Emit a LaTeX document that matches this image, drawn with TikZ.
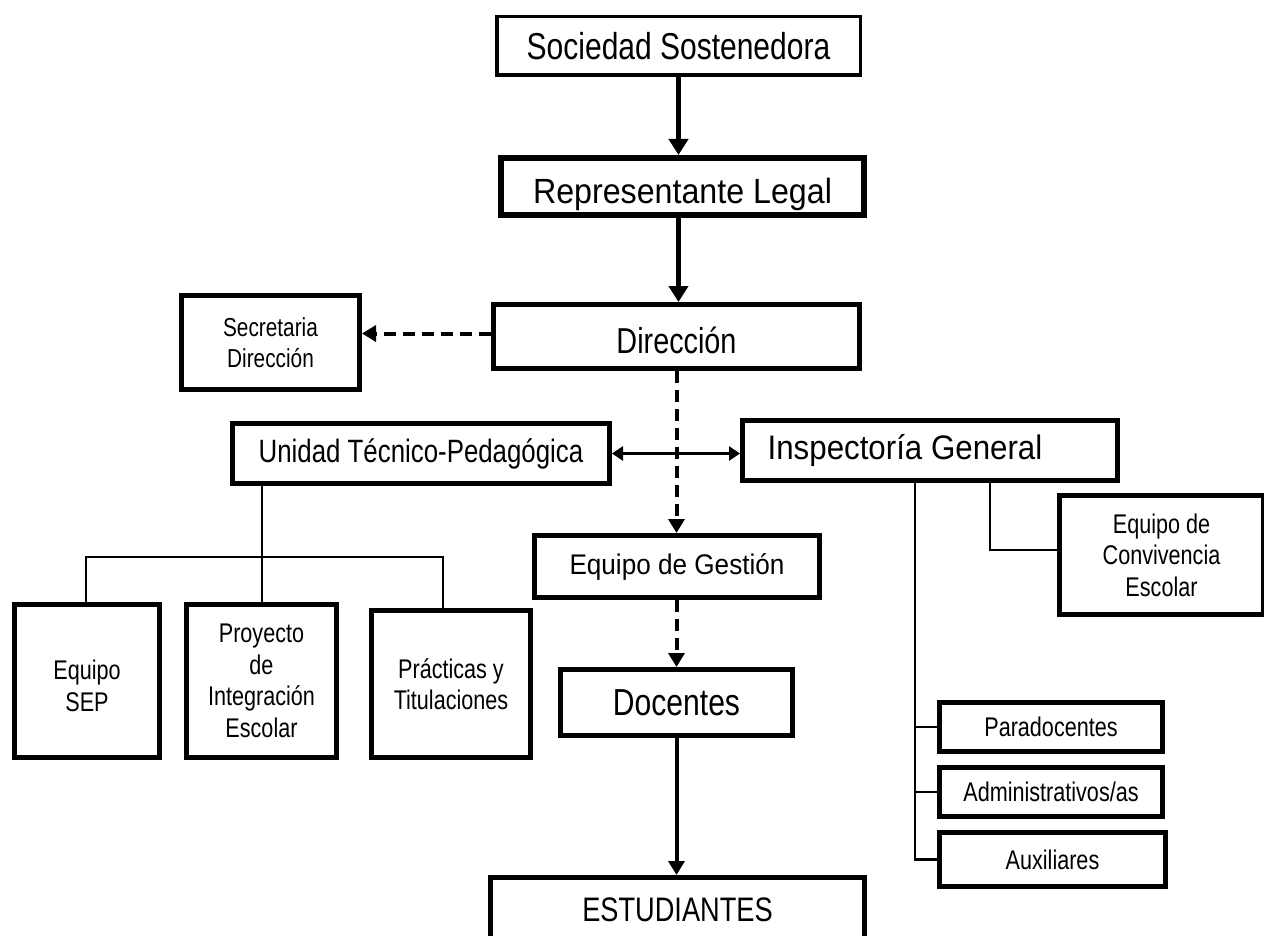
\documentclass[tikz,border=0pt]{standalone}
\usepackage{fontspec}
\setmainfont{Liberation Sans}[FakeStretch=0.8]
\newfontfamily\widefont{Liberation Sans}[FakeStretch=0.92]
\usetikzlibrary{arrows.meta}
\newcommand{\fsz}[2]{\fontsize{#1}{#2}\selectfont}
\newcommand{\shiftv}[2]{\raisebox{#1}[\height][\depth]{#2}}
\begin{document}
\begin{tikzpicture}[x=1pt,y=-1pt,
  obox/.style={draw, line width=5pt, inner sep=0pt, align=center, font=\fsz{27}{31.5}},
  bigarr/.style={line width=5.5pt, -{Triangle[length=16pt,width=19pt]}},
  midarr/.style={line width=4pt, -{Triangle[length=14pt,width=16pt]}},
  dasharr/.style={line width=4pt, dash pattern=on 12pt off 7pt, -{Triangle[length=14pt,width=16pt]}},
  dblarr/.style={line width=3pt, {Triangle[length=11pt,width=14pt]}-{Triangle[length=11pt,width=14pt]}},
  tree/.style={line width=2.5pt}
]
\useasboundingbox (0,0) rectangle (1264,936);

% top chain
\node[obox, line width=3.5pt, minimum width=363.5pt, minimum height=58.5pt, font=\fsz{37.5}{40}] (soc) at (678.5,46) {Sociedad Sostenedora};
\node[obox, line width=6pt, minimum width=363pt, minimum height=57pt, font=\widefont\fsz{35}{40}] (rep) at (682.5,186.5) {\shiftv{-8pt}{Representante Legal}};
\node[obox, minimum width=366pt, minimum height=64pt, font=\fsz{36}{40}] (dir) at (676.5,336.5) {\shiftv{-4pt}{Dirección}};
\node[obox, minimum width=178pt, minimum height=94pt, font=\fsz{26}{31}] (sec) at (270.5,342.5) {Secretaria\\Dirección};

% middle level
\node[obox, minimum width=377pt, minimum height=60pt, font=\fsz{32.3}{38}] (utp) at (421,453.5) {Unidad Técnico-Pedagógica};
\node[obox, minimum width=375pt, minimum height=60pt, font=\widefont\fsz{34}{40}] (insp) at (930,450.5) {Inspectoría General\kern50pt};
\node[obox, minimum width=285pt, minimum height=62pt, font=\widefont\fsz{28.4}{34}] (egest) at (677,566.5) {Equipo de Gestión};
\node[obox, minimum width=232pt, minimum height=66pt, font=\fsz{37.6}{42}] (doc) at (676.5,702.5) {Docentes};
\node[obox, minimum width=374pt, minimum height=70pt, font=\fsz{34}{40}] (est) at (677.5,912.5) {\shiftv{3pt}{ESTUDIANTES}};

% UTP children
\node[obox, minimum width=145pt, minimum height=153pt] (sep) at (87,681) {\shiftv{-8pt}{\begin{tabular}{@{}c@{}}Equipo\\SEP\end{tabular}}};
\node[obox, minimum width=150pt, minimum height=153pt] (pie) at (261.5,681) {Proyecto\\de\\Integración\\Escolar};
\node[obox, minimum width=159pt, minimum height=147pt] (prac) at (451,684) {Prácticas y\\Titulaciones};

% Inspectoria children
\node[obox, minimum width=204pt, minimum height=119pt] (conv) at (1161.5,555) {Equipo de\\Convivencia\\Escolar};
\node[obox, minimum width=223pt, minimum height=49pt] (para) at (1051,727) {Paradocentes};
\node[obox, minimum width=223pt, minimum height=49pt] (adm) at (1051,792) {Administrativos/as};
\node[obox, minimum width=226pt, minimum height=54pt] (aux) at (1052.5,859.5) {Auxiliares};

% connectors: main chain
\draw[bigarr] (soc.south) -- (soc.south |- rep.north);
\draw[bigarr] (soc.south |- rep.south) -- (soc.south |- dir.north);
\draw[dasharr] ([yshift=3pt]dir.west) -- ([yshift=3pt]dir.west -| sec.east);
\draw[dasharr] (dir.south) -- (dir.south |- egest.north);
\draw[dblarr] (utp.east) -- (utp.east -| insp.west);
\draw[dasharr] (egest.south -| doc.south) -- (doc.north -| doc.south);
\draw[midarr] (doc.south) -- (doc.south |- est.north);

% UTP tree
\coordinate (uj) at (262,557);
\coordinate (ul) at (86,557);
\coordinate (ur) at (443,557);
\draw[tree] (utp.south -| uj) -- (uj);
\draw[tree] (sep.north -| ul) -- (ul) -- (ur) -- (ur |- prac.north);
\draw[tree] (uj) -- (pie.north -| uj);

% Inspectoria tree
\coordinate (t1) at (915,483);
\coordinate (t2) at (990,483);
\draw[tree] (insp.south -| t1) |- (aux.west);
\draw[tree] (para.west -| t1) -- (para.west);
\draw[tree] (adm.west -| t1) -- (adm.west);
\draw[tree] (insp.south -| t2) |- ([yshift=5pt]conv.west);
\end{tikzpicture}
\end{document}
